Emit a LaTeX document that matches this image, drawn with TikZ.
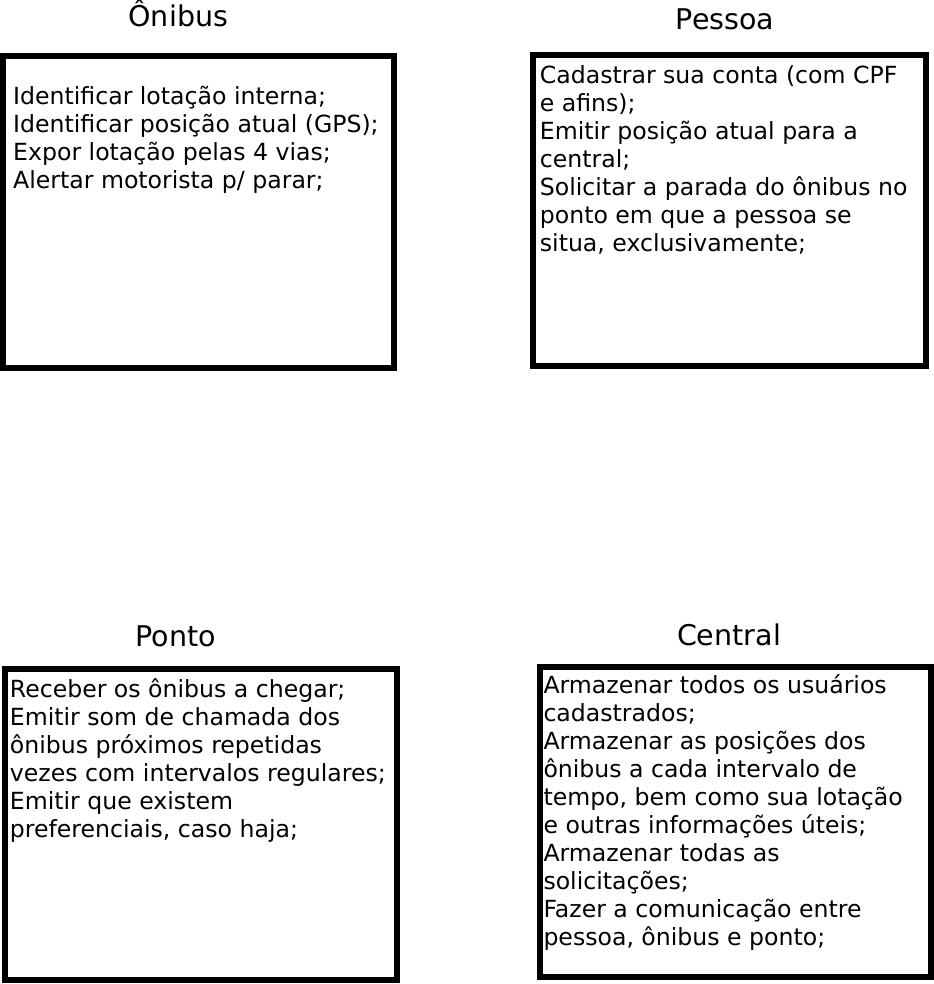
\documentclass[tikz,border=0pt]{standalone}
\usepackage{fontspec}
\setmainfont{DejaVu Sans}

\tikzset{every picture/.style={line width=0.75pt}}
\tikzset{
  boxtxt/.style={anchor=base west,inner sep=0pt,align=left,font=\fontsize{17.7}{21}\selectfont},
  titletxt/.style={anchor=base,inner sep=0pt,font=\fontsize{21.4}{25}\selectfont}
}

\begin{document}
\begin{tikzpicture}[x=0.75pt,y=0.75pt,yscale=-1,xscale=1]
\useasboundingbox (0,0) rectangle (934,984); %set diagram to 934 x 984

%Shape: Rectangle [id:dp2861049175534128] 
\draw  [line width=4.5]  (3,56.5) -- (394,56.5) -- (394,368.3) -- (3,368.3) -- cycle ;
%Shape: Rectangle [id:dp7730419628815402] 
\draw  [line width=4.5]  (533.3,55) -- (926,55) -- (926,366) -- (533.3,366) -- cycle ;
%Shape: Rectangle [id:dp5193846620371905] 
\draw  [line width=4.5]  (5.3,669.3) -- (396.7,669.3) -- (396.7,980) -- (5.3,980) -- cycle ;
%Shape: Rectangle [id:dp0348817265930652] 
\draw  [line width=4.5]  (539.5,666.5) -- (931,666.5) -- (931,976.5) -- (539.5,976.5) -- cycle ;

% Text Node
\draw (178.3,26.7) node [titletxt] (onibusTitle) {Ônibus};
% Text Node
\draw (725,29.3) node [titletxt] (pessoaTitle) {Pessoa};
% Text Node
\draw (175.8,646) node [titletxt] (pontoTitle) {Ponto};
% Text Node
\draw (729,645) node [titletxt] (centralTitle) {Central};
% Text Node (base = last line)
\draw (12.7,189) node [boxtxt] (onibusTxt) {Identificar lotação interna;\\Identificar posição atual (GPS);\\Expor lotação pelas 4 vias;\\Alertar motorista p/ parar;};
% Text Node
\draw (539.4,251.3) node [boxtxt] (pessoaTxt) {Cadastrar sua conta (com CPF\\e afins);\\Emitir posição atual para a\\central;\\Solicitar a parada do ônibus no\\ponto em que a pessoa se\\situa, exclusivamente;};
% Text Node
\draw (9.4,837.3) node [boxtxt] (pontoTxt) {Receber os ônibus a chegar;\\Emitir som de chamada dos\\ônibus próximos repetidas\\vezes com intervalos regulares;\\Emitir que existem\\preferenciais, caso haja;};
% Text Node
\draw (543,945) node [boxtxt] (centralTxt) {Armazenar todos os usuários\\cadastrados;\\Armazenar as posições dos\\ônibus a cada intervalo de\\tempo, bem como sua lotação\\e outras informações úteis;\\Armazenar todas as\\solicitações;\\Fazer a comunicação entre\\pessoa, ônibus e ponto;};

\end{tikzpicture}
\end{document}
